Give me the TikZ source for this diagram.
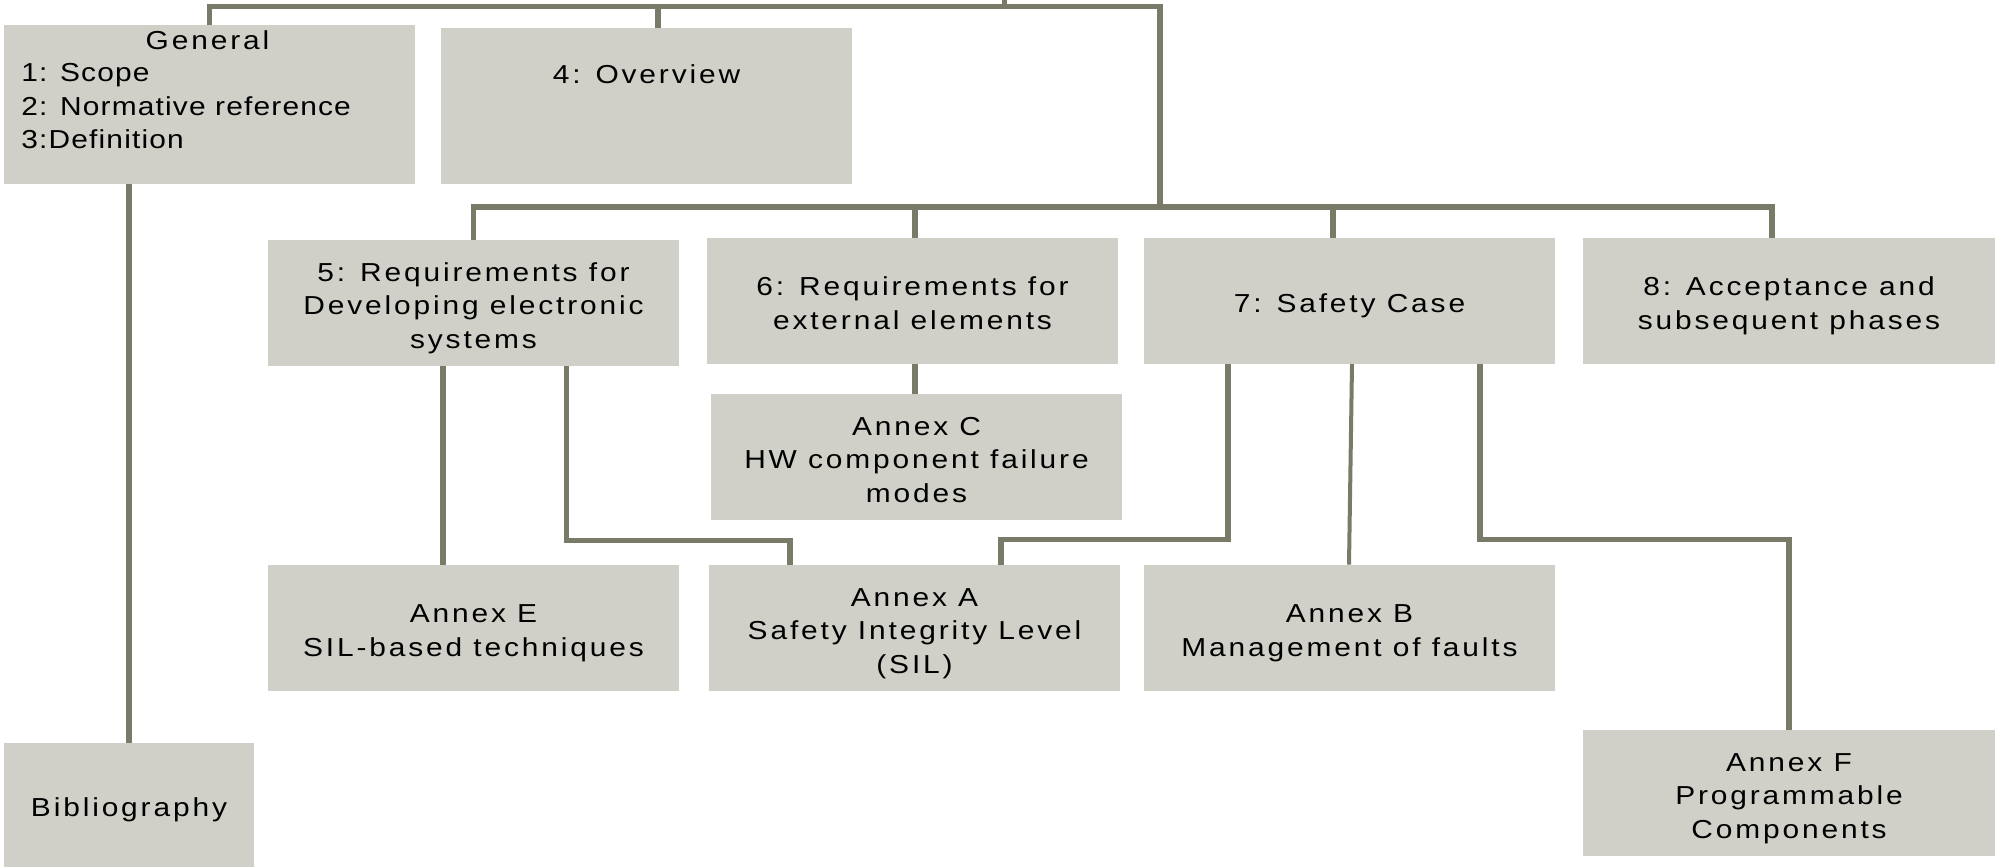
\documentclass[tikz,border=0pt]{standalone}
\usepackage{fontspec}
\setmainfont{Liberation Sans}[LetterSpace=11, FakeStretch=1.15]
\definecolor{boxfill}{RGB}{208,208,200}
\definecolor{wire}{RGB}{122,122,104}
\newcommand\boxfont{\fontsize{13pt}{16.8pt}\selectfont}
% fixed first-line height and last-line depth, so that every box centres alike
\newcommand\boxlines[1]{\rule{0pt}{1.1em}#1\rule[-0.2em]{0pt}{0pt}}
\newcommand\listfont{\boxfont\addfontfeatures{LetterSpace=4.5}}
\begin{document}
\begin{tikzpicture}[x=0.5pt,y=-0.5pt,
  box/.style={fill=boxfill, inner sep=0pt, minimum width=205.5pt,
    minimum height=63pt, align=center, font=\boxfont},
  txt/.style={inner sep=0pt, font=\boxfont},
  listtxt/.style={inner sep=0pt, font=\listfont, anchor=base west},
  conn/.style={draw=wire, line width=2.6pt, line join=miter},
  thinconn/.style={conn, line width=2pt}]
\useasboundingbox (0,0) rectangle (1995,867);

% upper row
\node[box, minimum height=79.5pt] (gen) at (209.5,104.5) {};
\node[txt, anchor=base] (genT) at (207.5,49.3) {General};
\node[listtxt] (gen1) at (21,81.7) {1: Scope};
\node[listtxt] (gen2) at (21,115) {2: Normative reference};
\node[listtxt] (gen3) at (21,148) {3:Definition};
\node[box, minimum height=78pt] (ovw) at (646.5,106) {};
\node[txt, anchor=base] (ovwT) at (646.5,83) {4: Overview};

% clause row
\node[box] (s5) at (473.5,303) {\boxlines{5: Requirements for\\Developing electronic\\systems}};
\node[box] (s6) at (912.5,301) {\boxlines{6: Requirements for\\external elements}};
\node[box] (s7) at (1349.5,301) {\boxlines{7: Safety Case}};
\node[box, minimum width=206pt] (s8) at (1789,301) {\boxlines{8: Acceptance and\\subsequent phases}};

% annexes
\node[box] (anC) at (916.5,457) {\boxlines{Annex C\\HW component failure\\modes}};
\node[box] (anE) at (473.5,628) {\boxlines{Annex E\\SIL-based techniques}};
\node[box] (anA) at (914.5,628) {\boxlines{Annex A\\Safety Integrity Level\\(SIL)}};
\node[box] (anB) at (1349.5,628) {\boxlines{Annex B\\Management of faults}};
\node[box, minimum width=206pt] (anF) at (1789,793) {\boxlines{Annex F\\Programmable\\Components}};
\node[box, minimum width=125pt, minimum height=62pt] (bib) at (129,805) {\boxlines{Bibliography}};

% bus coordinates
\coordinate (root) at (1004.5,0);
\coordinate (bus1R) at (1160,6.5);
\coordinate (ovwTap) at (658,6.5);
\coordinate (bus2R) at (1160,207);
\coordinate (tap6) at (915,207);
\coordinate (tap7) at (1333,207);
\coordinate (tap8) at (1772,207);

% top-level tree
\draw[conn] (gen.north) |- (bus1R) -- (bus2R);
\draw[conn] (root) -- (root |- bus1R);
\draw[conn] (ovwTap) -- (ovwTap |- ovw.north);
\draw[conn] (s5.north) |- (tap8) -- (tap8 |- s8.north);
\draw[conn] (tap6) -- (tap6 |- s6.north);
\draw[conn] (tap7) -- (tap7 |- s7.north);

% general -> bibliography
\draw[conn] (bib.north |- gen.south) -- (bib.north);

% clause 5 -> annexes
\coordinate (e5) at (443,366);
\draw[conn] (e5) -- (e5 |- anE.north);
\coordinate (a5) at (566.5,366);
\coordinate (a5b) at (790,540.5);
\draw[conn] (a5) |- (a5b) -- (a5b |- anA.north);

% clause 6 -> annex C
\draw[conn] (tap6 |- s6.south) -- (tap6 |- anC.north);

% clause 7 -> annexes
\coordinate (a7) at (1228,364);
\coordinate (a7b) at (1001,539.5);
\draw[conn] (a7) |- (a7b) -- (a7b |- anA.north);
\coordinate (b7) at (1352,364);
\coordinate (b7b) at (1349,565);
\draw[thinconn] (b7) -- (b7b |- anB.north);
\coordinate (f7) at (1480,364);
\draw[conn] (f7) |- (anF.north |- a7b) -- (anF.north);
\end{tikzpicture}
\end{document}
